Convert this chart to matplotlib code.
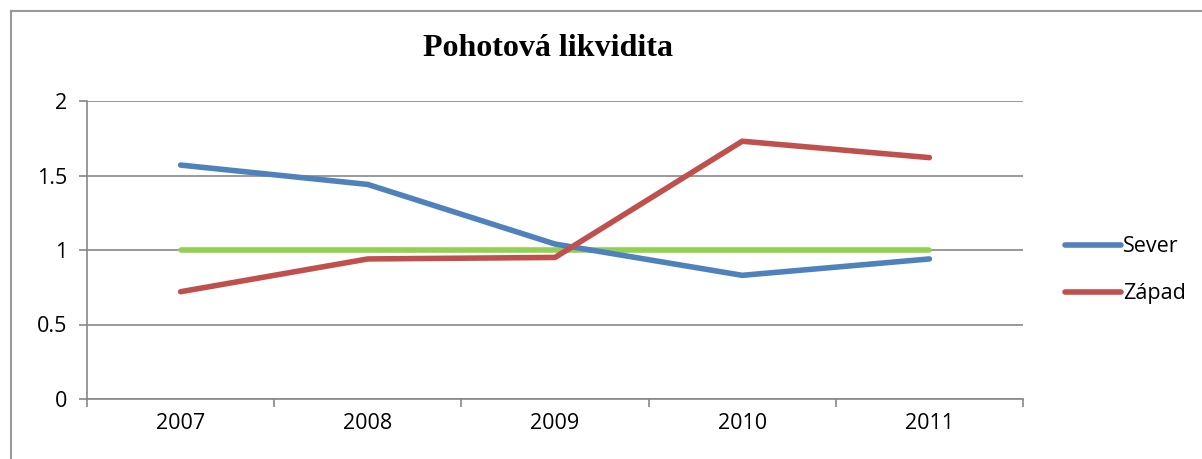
import matplotlib
matplotlib.use("Agg")
import matplotlib.pyplot as plt
from matplotlib.lines import Line2D

years = ["2007", "2008", "2009", "2010", "2011"]
sever = [1.57, 1.44, 1.04, 0.83, 0.94]
zapad = [0.72, 0.94, 0.95, 1.73, 1.62]
norm = [1.0, 1.0, 1.0, 1.0, 1.0]
title = "Pohotová likvidita"

W, H = 1202, 459
fig = plt.figure(figsize=(W / 100, H / 100), dpi=100)
fig.patch.set_facecolor("white")

# outer chart border (left and top visible)
fig.add_artist(Line2D([11 / W, 11 / W], [0, 1 - 11 / H], transform=fig.transFigure, color="#999999", lw=1.5))
fig.add_artist(Line2D([11 / W, 1], [1 - 11 / H, 1 - 11 / H], transform=fig.transFigure, color="#999999", lw=1.5))

ax = fig.add_axes([87 / W, 1 - 399 / H, (1023 - 87) / W, (399 - 101) / H])
x = list(range(len(years)))
ax.plot(x, norm, color="#92D050", lw=4, solid_capstyle="round", zorder=3)
ax.plot(x, sever, color="#4F81BD", lw=4, solid_capstyle="round", label="Sever", zorder=4)
ax.plot(x, zapad, color="#C0504D", lw=4, solid_capstyle="round", label="Západ", zorder=4)

ax.set_xlim(-0.5, 4.5)
ax.set_ylim(0, 2)
ax.set_yticks([0, 0.5, 1, 1.5, 2])
ax.set_yticklabels(["0", "0.5", "1", "1.5", "2"])
ax.set_xticks(x)
ax.set_xticklabels(years)
ax.set_xticks([-0.5, 0.5, 1.5, 2.5, 3.5, 4.5], minor=True)
ax.tick_params(axis="x", which="major", length=0, pad=10)
ax.tick_params(axis="x", which="minor", length=6, color="#888888", width=1.2)
ax.tick_params(axis="y", length=6, color="#888888", width=1.2, pad=8)
for lab in ax.get_xticklabels() + ax.get_yticklabels():
    lab.set_fontfamily("Open Sans")
    lab.set_fontsize(15.5)
    lab.set_color("black")

ax.grid(axis="y", color="#888888", lw=1.2)
ax.set_axisbelow(True)
for s in ["top", "right"]:
    ax.spines[s].set_visible(False)
ax.spines["left"].set_color("#888888")
ax.spines["bottom"].set_color("#888888")
ax.spines["left"].set_linewidth(1.2)
ax.spines["bottom"].set_linewidth(1.2)

fig.text(548 / W, 1 - 48 / H, title, ha="center", va="center", fontsize=23,
         fontweight="bold", family="Liberation Serif")

leg = ax.legend(loc="center left", bbox_to_anchor=(1.024, 0.432), frameon=False,
                prop={"family": "Open Sans", "size": 15.5}, handlelength=2.6,
                handletextpad=0.1, labelspacing=1.2)

fig.savefig("out.png", dpi=100, facecolor="white")
